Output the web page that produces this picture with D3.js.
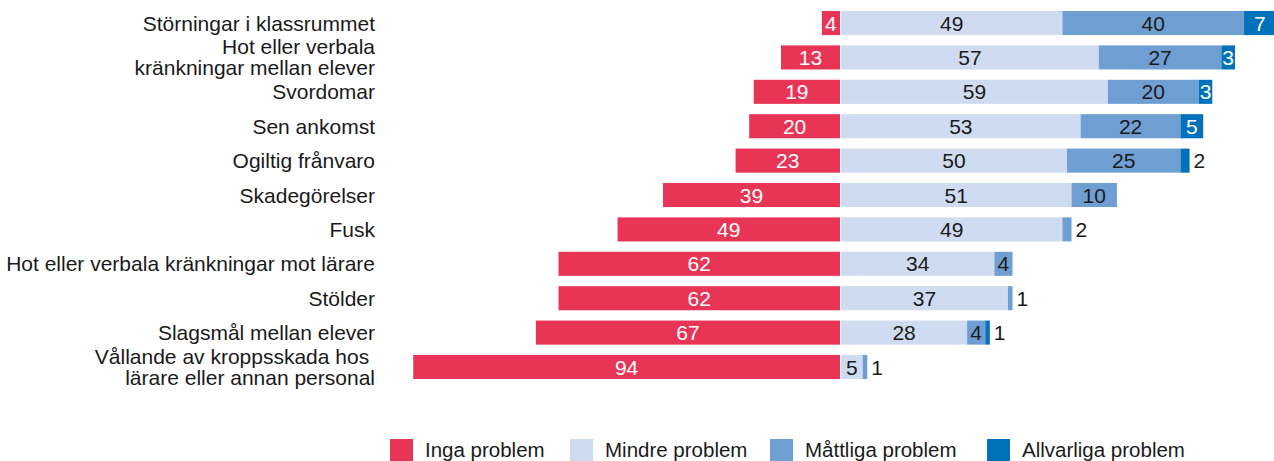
<!DOCTYPE html>
<html>
<head>
<meta charset="utf-8">
<script src="https://cdn.jsdelivr.net/npm/d3@7"></script>
<style>
  html, body { margin: 0; padding: 0; background: #fff; }
  svg { display: block; }
  text { font-family: "Liberation Sans", Arial, sans-serif; }
</style>
</head>
<body>
<svg id="chart" width="1274" height="461"></svg>
<script>
// Categories (two-line labels split with "\n")
const categories = [
  "Störningar i klassrummet",
  "Hot eller verbala\nkränkningar mellan elever",
  "Svordomar",
  "Sen ankomst",
  "Ogiltig frånvaro",
  "Skadegörelser",
  "Fusk",
  "Hot eller verbala kränkningar mot lärare",
  "Stölder",
  "Slagsmål mellan elever",
  "Vållande av kroppsskada hos \nlärare eller annan personal"
];

// Share of responses (%) per category
const ingaProblem      = [4, 13, 19, 20, 23, 39, 49, 62, 62, 67, 94];
const mindreProblem    = [49, 57, 59, 53, 50, 51, 49, 34, 37, 28, 5];
const mattligaProblem  = [40, 27, 20, 22, 25, 10, 2, 4, 1, 4, 1];
const allvarligaProblem = [7, 3, 3, 5, 2, 0, 0, 0, 0, 1, 0];

const seriesNames = ["Inga problem", "Mindre problem", "Måttliga problem", "Allvarliga problem"];
const seriesColors = ["#e83455", "#cedbf0", "#6e9ed2", "#0072bb"];
const labelColors = ["#ffffff", "#1a1a1a", "#1a1a1a", "#ffffff"];

const svg = d3.select("#chart");
const fontSize = 21;

const x = d3.scaleLinear().domain([-100, 100]).range([386, 1294]);
const y = d3.scaleBand()
  .domain(categories)
  .range([5.84, 384.2])
  .paddingInner(0.3)
  .paddingOuter(0.15);

const rows = categories.map((c, i) => ({
  cat: c,
  vals: [ingaProblem[i], mindreProblem[i], mattligaProblem[i], allvarligaProblem[i]]
}));

const gBars = svg.append("g");
const gLabels = svg.append("g");

rows.forEach(row => {
  const y0 = y(row.cat);
  const h = y.bandwidth();
  const cy = y0 + h / 2;

  // Negative side: no problems
  const v0 = row.vals[0];
  gBars.append("rect")
    .attr("x", x(-v0))
    .attr("y", y0)
    .attr("width", x(0) - x(-v0))
    .attr("height", h)
    .attr("fill", seriesColors[0]);
  gLabels.append("text")
    .attr("x", (x(-v0) + x(0)) / 2)
    .attr("y", cy)
    .attr("dy", "0.36em")
    .attr("text-anchor", "middle")
    .attr("font-size", fontSize)
    .attr("fill", labelColors[0])
    .text(v0);

  // Positive side: stacked from zero (1px white gap after the red bar)
  let cum = 0;
  for (let s = 1; s < 4; s++) {
    const v = row.vals[s];
    if (v <= 0) continue;
    const xa = x(cum) + (s === 1 ? 1 : 0);
    const xb = x(cum + v);
    gBars.append("rect")
      .attr("x", xa)
      .attr("y", y0)
      .attr("width", Math.max(0, xb - xa))
      .attr("height", h)
      .attr("fill", seriesColors[s]);
    const inside = v >= 3;
    gLabels.append("text")
      .attr("x", inside ? (xa + xb) / 2 : xb + 4)
      .attr("y", cy)
      .attr("dy", "0.36em")
      .attr("text-anchor", inside ? "middle" : "start")
      .attr("font-size", fontSize)
      .attr("fill", inside ? labelColors[s] : "#1a1a1a")
      .text(v);
    cum += v;
  }

  // Category label, right-aligned
  const lines = row.cat.split("\n");
  const lh = 21;
  const t = svg.append("text")
    .attr("x", 375)
    .attr("text-anchor", "end")
    .attr("font-size", fontSize)
    .attr("fill", "#1a1a1a")
    .style("white-space", "pre");
  lines.forEach((ln, k) => {
    t.append("tspan")
      .attr("x", 375)
      .attr("y", cy - (lines.length - 1) * lh / 2 + k * lh)
      .attr("dy", "0.36em")
      .text(ln);
  });
});

// Legend
const legendX = [390, 570, 770, 987];
const legend = svg.append("g");
seriesNames.forEach((name, i) => {
  legend.append("rect")
    .attr("x", legendX[i])
    .attr("y", 439)
    .attr("width", 23)
    .attr("height", 22)
    .attr("fill", seriesColors[i]);
  legend.append("text")
    .attr("x", legendX[i] + 35)
    .attr("y", 457)
    .attr("font-size", 20.5)
    .attr("fill", "#1a1a1a")
    .text(name);
});
</script>
</body>
</html>
